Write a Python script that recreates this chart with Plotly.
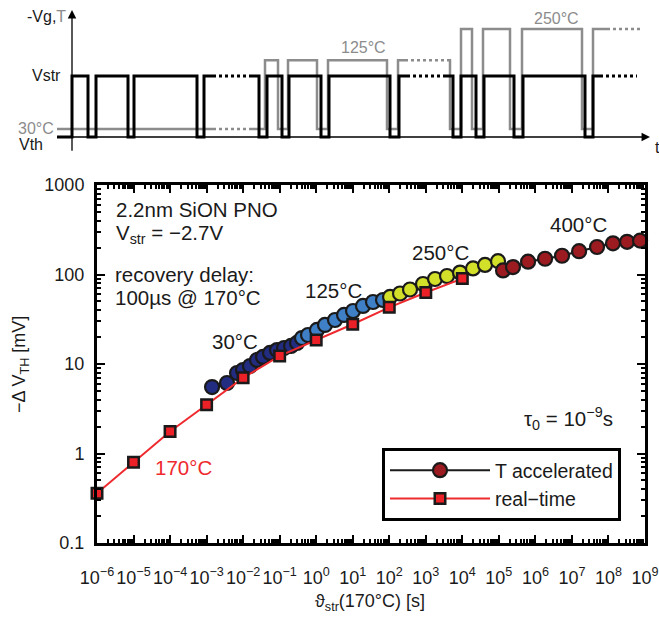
import plotly.graph_objects as go

W, H = 659, 623
FONT = "Liberation Sans, Arial, sans-serif"

# ---------------- data: bottom plot ----------------
rt_time = [1e-6, 1e-5, 1e-4, 1e-3, 1e-2, 1e-1, 1, 10, 100, 1000, 10000]
rt_dvth = [0.36, 0.80, 1.76, 3.5, 7.0, 12.3, 18.5, 27.8, 43, 63, 90]

acc30_time = [1.41e-3, 3.62e-3, 6.81e-3, 9.93e-3, 1.54e-2, 2.40e-2, 3.50e-2,
              5.45e-2, 8.45e-2, 0.132, 0.205, 0.299]
acc30_dvth = [5.53, 6.13, 7.93, 8.57, 9.50, 11.1, 12.0, 13.3, 14.3, 15.1, 15.9, 17.2]

acc125_time = [0.409, 0.597, 1.05, 1.74, 3.27, 5.78, 10.2, 19.1, 35.9, 67.5]
acc125_dvth = [19.5, 21.1, 24.0, 27.3, 31.0, 35.3, 39.1, 44.5, 49.3, 51.9]

acc250_time = [105, 197, 370, 839, 1790, 3810, 8650, 1.96e4, 4.18e4, 9.48e4]
acc250_dvth = [56.1, 61.3, 68.0, 78.3, 89.1, 96.2, 105, 117, 128, 141]

acc400_time = [1.30e5, 2.44e5, 6.30e5, 1.84e6, 5.36e6, 1.57e7, 4.86e7, 1.33e8, 3.23e8, 7.33e8]
acc400_dvth = [111, 121, 139, 150, 162, 182, 203, 223, 232, 239]

x_exponents = list(range(-6, 10))
y_ticks = [0.1, 1, 10, 100, 1000]
y_ticklabels = ["0.1", "1", "10", "100", "1000"]

# ---------------- data: top schematic ----------------
VTH, VSTR = 0.0, 1.0
T30, T125, T250 = 0.13, 1.26, 1.77
# each segment: (edge times, levels between consecutive edges)
vg_segments = [
    ([57, 72, 88, 96, 128, 134, 197, 204, 213], [VTH, VSTR, VTH, VSTR, VTH, VSTR, VTH, VSTR]),
    ([250, 259, 267, 282, 289, 321, 329, 390, 399, 407], [VSTR, VTH, VSTR, VTH, VSTR, VTH, VSTR, VTH, VSTR]),
    ([443, 453, 461, 476, 484, 514, 523, 585, 593, 600], [VSTR, VTH, VSTR, VTH, VSTR, VTH, VSTR, VTH, VSTR]),
]
vg_dotted = [(213, 250, VSTR), (407, 443, VSTR), (600, 637, VSTR)]
temp_segments = [
    ([57, 213], [T30]),
    ([250, 265, 278, 288, 317, 328, 387, 398, 405], [T30, T125, T30, T125, T30, T125, T30, T125]),
    ([447, 450, 461, 472, 483, 510, 522, 582, 593, 607], [T125, T30, T250, T30, T250, T30, T250, T30, T250]),
]
temp_dotted = [(213, 250, T30), (405, 447, T125), (607, 640, T250)]
t_axis_start, t_axis_end = 57, 650
v_axis_x, v_axis_bottom, v_axis_top = 72, -0.25, 2.08


def step_path(edges, levels):
    xs, ys = [], []
    for i, lv in enumerate(levels):
        xs += [edges[i], edges[i + 1]]
        ys += [lv, lv]
    return xs, ys


def px(xp):
    return xp / W


def py(yp):
    return 1 - yp / H


fig = go.Figure()

# ----- schematic -----
GRAY = "#8c8c8c"
for edges, levels in temp_segments:
    xs, ys = step_path(edges, levels)
    fig.add_trace(go.Scatter(x=xs, y=ys, mode="lines", xaxis="x2", yaxis="y2",
                             line=dict(color=GRAY, width=2.5), showlegend=False,
                             cliponaxis=False, hoverinfo="skip"))
for a, b, lv in temp_dotted:
    fig.add_trace(go.Scatter(x=[a, b], y=[lv, lv], mode="lines", xaxis="x2", yaxis="y2",
                             line=dict(color=GRAY, width=2.5, dash="dot"), showlegend=False,
                             cliponaxis=False, hoverinfo="skip"))
for edges, levels in vg_segments:
    xs, ys = step_path(edges, levels)
    fig.add_trace(go.Scatter(x=xs, y=ys, mode="lines", xaxis="x2", yaxis="y2",
                             line=dict(color="black", width=3), showlegend=False,
                             cliponaxis=False, hoverinfo="skip"))
for a, b, lv in vg_dotted:
    fig.add_trace(go.Scatter(x=[a, b], y=[lv, lv], mode="lines", xaxis="x2", yaxis="y2",
                             line=dict(color="black", width=3, dash="dot"), showlegend=False,
                             cliponaxis=False, hoverinfo="skip"))

# ----- main plot -----
segs = [
    (acc30_time, acc30_dvth, "#222c80"),
    (acc125_time, acc125_dvth, "#3f7fc6"),
    (acc250_time, acc250_dvth, "#d3e02a"),
    (acc400_time, acc400_dvth, "#9b1b20"),
]
for xs, ys, col in segs:
    fig.add_trace(go.Scatter(x=xs, y=ys, mode="lines+markers",
                             line=dict(color="#1a1a1a", width=2),
                             marker=dict(symbol="circle", size=14, color=col,
                                         line=dict(color="#1a1a1a", width=2.2)),
                             showlegend=False, cliponaxis=False))

fig.add_trace(go.Scatter(x=[None], y=[None], mode="lines+markers", name="T accelerated",
                         line=dict(color="#1a1a1a", width=2),
                         marker=dict(symbol="circle", size=14, color="#9b1b20",
                                     line=dict(color="#1a1a1a", width=2.2))))
fig.add_trace(go.Scatter(x=rt_time, y=rt_dvth, mode="lines+markers", name="real−time",
                         line=dict(color="#ee2a2f", width=2),
                         marker=dict(symbol="square", size=10.5, color="#ec2027",
                                     line=dict(color="#1a1a1a", width=2.5)),
                         cliponaxis=False))

axis_common = dict(showline=True, linewidth=3, linecolor="black", mirror="allticks",
                   ticks="inside", ticklen=8, tickwidth=2, tickcolor="black",
                   showgrid=False, zeroline=False, type="log", automargin=False)

fig.update_layout(
    width=W, height=H, margin=dict(l=0, r=0, t=0, b=0, pad=0, autoexpand=False),
    paper_bgcolor="white", plot_bgcolor="white",
    font=dict(family=FONT, color="#1a1a1a"),
    xaxis=dict(**axis_common, domain=[px(97), px(645)], range=[-6, 9],
               tickvals=[10.0 ** k for k in x_exponents],
               ticktext=["10<sup>%s</sup>" % (("−%d" % -k) if k < 0 else str(k)) for k in x_exponents],
               tickfont=dict(family=FONT, size=18, color="#1a1a1a"),
               ticklabelstandoff=16,
               minor=dict(tickvals=[m * 10.0 ** k for k in range(-6, 9) for m in range(2, 10)],
                          ticks="inside", ticklen=4, tickwidth=1.5, tickcolor="black", showgrid=False),
               anchor="y"),
    yaxis=dict(**axis_common, domain=[py(543), py(185)], range=[-1, 3],
               tickvals=y_ticks, ticktext=y_ticklabels, ticklabelstandoff=6,
               tickfont=dict(family=FONT, size=18, color="#1a1a1a"),
               minor=dict(tickvals=[m * 10.0 ** k for k in range(-1, 3) for m in range(2, 10)],
                          ticks="inside", ticklen=4, tickwidth=1.5, tickcolor="black", showgrid=False),
               anchor="x"),
    xaxis2=dict(domain=[0, 1], range=[0, W], visible=False, anchor="y2"),
    yaxis2=dict(domain=[py(160), 1], range=[(137 - 160) / 61, 137 / 61], visible=False, anchor="x2"),
    legend=dict(x=px(382), y=py(448), xanchor="left", yanchor="top",
                bordercolor="black", borderwidth=3, bgcolor="white",
                font=dict(family=FONT, size=19.5, color="#1a1a1a"), itemwidth=100),
)

ann = []
# schematic axes arrows
ann.append(dict(x=t_axis_end, y=VTH, ax=t_axis_start, ay=VTH, xref="x2", yref="y2",
                axref="x2", ayref="y2", text="", showarrow=True, arrowhead=2,
                arrowsize=1.3, arrowwidth=1.3, arrowcolor="black", standoff=0, startstandoff=0))
ann.append(dict(x=v_axis_x, y=v_axis_top, ax=v_axis_x, ay=v_axis_bottom, xref="x2", yref="y2",
                axref="x2", ayref="y2", text="", showarrow=True, arrowhead=2,
                arrowsize=1.3, arrowwidth=1.3, arrowcolor="black", standoff=0, startstandoff=0))


def label(text, x, y, size, xanchor="center", color="#1a1a1a", **kw):
    d = dict(text=text, x=x, y=y, xref="paper", yref="paper", xanchor=xanchor, yanchor="middle",
             showarrow=False, font=dict(family=FONT, size=size, color=color))
    d.update(kw)
    ann.append(d)


# schematic labels
label("-Vg,<span style='color:#8c8c8c'>T</span>", px(68), py(16), 16, xanchor="right")
label("Vstr", px(63), py(76), 16, xanchor="right")
label("30°C", px(56), py(128), 16, xanchor="right", color=GRAY)
label("Vth", px(45), py(145), 16, xanchor="right")
label("125°C", px(363), py(48), 16, color=GRAY)
label("250°C", px(556), py(19), 16, color=GRAY)
label("t", px(657), py(147), 16)

# main plot labels
label("2.2nm SiON PNO", px(114), py(210), 20.5, xanchor="left")
label("V<sub>str</sub> = −2.7V", px(114), py(234), 20.5, xanchor="left")
label("recovery delay:", px(113), py(275), 20.5, xanchor="left")
label("100µs @ 170°C", px(113), py(297), 20.5, xanchor="left")
label("30°C", px(235), py(341), 20.5)
label("125°C", px(333), py(290), 20.5)
label("250°C", px(440), py(252), 20.5)
label("400°C", px(578), py(224), 20.5)
label("170°C", px(183), py(467), 20.5, color="#ee2a2f")
label("τ<sub>0</sub> = 10<sup>−9</sup>s", px(615), py(418), 20.5, xanchor="right")

# axis titles
label("ϑ<sub>str</sub>(170°C) [s]", px(370), py(602), 18)
label("−Δ V<sub>TH</sub> [mV]", px(20), py(365), 18, textangle=-90)

fig.update_layout(annotations=ann)
fig.write_html("out.html")
